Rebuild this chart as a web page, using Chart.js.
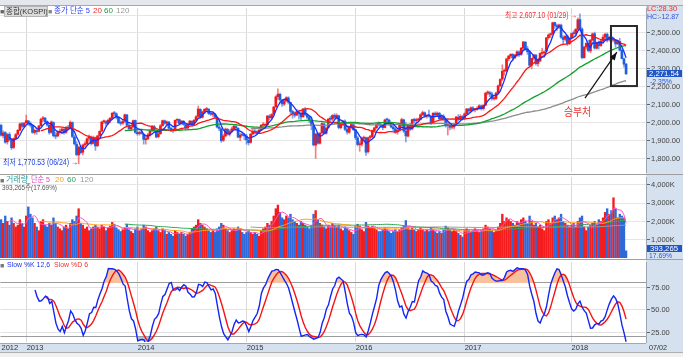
<!DOCTYPE html>
<html lang="ko"><head><meta charset="utf-8">
<script src="https://cdn.jsdelivr.net/npm/chart.js@4.4.1/dist/chart.umd.min.js"></script>
<style>
html,body{margin:0;padding:0}
body{width:683px;height:357px;position:relative;overflow:hidden;background:#fff;font-family:"Liberation Sans","Noto Sans CJK KR",sans-serif;}
.a{position:absolute;white-space:nowrap;line-height:1;transform-origin:0 50%}
canvas{position:absolute;left:0}
</style></head><body>
<div class="a" style="left:0;top:0;width:683px;height:5px;background:#e4e8ec;border-bottom:1px solid #a8a8a8"></div>
<div class="a" style="left:646px;top:6px;width:37px;height:346px;background:#d5e1ee;"></div>
<div class="a" style="left:0;top:343px;width:646px;height:9px;background:#d5e1ee;border-top:1px solid #a0a8b0"></div>
<div class="a" style="left:0;top:352px;width:683px;height:5px;background:#f0f0f0;border-top:1px solid #b0b0b0"></div>
<div class="a" style="left:0;top:174px;width:683px;height:1px;background:#a0a0a0"></div>
<div class="a" style="left:0;top:259px;width:683px;height:1px;background:#a0a0a0"></div>

<canvas id="cP" width="683" height="168" style="top:6px;width:683px;height:168px"></canvas>
<canvas id="cV" width="683" height="85" style="top:175px;width:683px;height:85px"></canvas>
<canvas id="cS" width="683" height="92" style="top:260px;width:683px;height:92px"></canvas>

<div class="a" style="left:0;top:7.5px;font-size:7px;color:#666">■</div>
<div class="a" style="left:4px;top:6px;width:41px;height:9px;overflow:hidden;background:#dcdcdc;border:1px solid #b4b4b4;font-size:7.5px;color:#333;line-height:9px;padding-left:1px">종합(KOSPI)</div>
<div class="a" style="left:48px;top:7.5px;font-size:7px;color:#888">■</div>
<div class="a fit" data-w="36" style="left:54px;top:7px;font-size:8px;color:#2a3cf0">종가 단순 5</div>
<div class="a" style="left:93px;top:7px;font-size:8px;color:#f02828">20</div>
<div class="a" style="left:104px;top:7px;font-size:8px;color:#1a9a3a">60</div>
<div class="a" style="left:116px;top:7px;font-size:8px;color:#999">120</div>
<div class="a fit" data-w="30" style="left:647px;top:5px;font-size:8px;color:#e03030">LC:28.30</div>
<div class="a fit" data-w="32" style="left:647px;top:13px;font-size:8px;color:#3050e0">HC:-12.87</div>
<div class="a" style="left:647px;top:70px;width:35px;height:7px;background:#1f56c8;"></div>
<div class="a fit" data-w="30" style="left:649px;top:69.5px;font-size:8px;color:#fff">2,271.54</div>
<div class="a fit" data-w="22" style="left:650px;top:77.5px;font-size:8px;color:#2255dd">-2.35%</div>
<div class="a fit" data-w="72" style="left:505px;top:11px;font-size:8.5px;color:#f03030">최고 2,607.10 (01/29) →</div>
<div class="a fit" data-w="75" style="left:3px;top:158px;font-size:8.5px;color:#2040e0">최저 1,770.53 (06/24) →</div>
<div class="a fit" data-w="27" style="left:564px;top:106px;font-size:11px;color:#e83030;font-family:'Noto Sans CJK KR',sans-serif">승부처</div>

<div class="a" style="left:0;top:177px;font-size:7px;color:#777">■</div>
<div class="a fit" data-w="22" style="left:6px;top:176px;font-size:8px;color:#2aa0a0">거래량</div>
<div class="a fit" data-w="19" style="left:31px;top:176px;font-size:8px;color:#e040c8">단순 5</div>
<div class="a" style="left:55px;top:176px;font-size:8px;color:#f0a020">20</div>
<div class="a" style="left:67px;top:176px;font-size:8px;color:#30a060">60</div>
<div class="a" style="left:80px;top:176px;font-size:8px;color:#999">120</div>
<div class="a fit" data-w="55" style="left:2px;top:184px;font-size:8px;color:#555">393,265주(17.69%)</div>
<div class="a" style="left:647px;top:245px;width:35px;height:7px;background:#1f56c8;"></div>
<div class="a fit" data-w="28" style="left:650px;top:244.5px;font-size:8px;color:#fff">393,265</div>
<div class="a fit" data-w="23" style="left:649px;top:252px;font-size:8px;color:#2255dd">17.69%</div>

<div class="a" style="left:0;top:261.5px;font-size:7px;color:#777">■</div>
<div class="a fit" data-w="43" style="left:7px;top:260.5px;font-size:8px;color:#2030f0">Slow %K 12,6</div>
<div class="a fit" data-w="34" style="left:54px;top:260.5px;font-size:8px;color:#f03030">Slow %D 6</div>
<div class="a fit" data-w="18" style="left:649px;top:344px;font-size:8px;color:#333">07/02</div>

<script>
// ---------- data (weekly KOSPI) ----------
const firstWeek = '2012-10-08';
const closedWeeks = ['2017-10-02'];
const emptySlots = 9;

const openP = [1985,1928,1945,1893,1935,1903,1862,1912,1935,1958,
1994,1978,2000,2010,1995,1985,1945,1955,1952,1983,
2020,2025,2005,1985,1946,2000,1925,1926,1945,1953,
1962,1946,1973,1970,2000,1920,1880,1820,1860,1835,
1877,1882,1912,1918,1885,1915,1872,1928,1953,2005,
2006,1995,2012,2025,2053,2049,2030,1998,1997,2008,
2043,1985,1965,1977,2012,1945,1940,1947,1935,1905,
1910,1933,1956,1978,1952,1922,1938,1983,2010,1996,
2003,1968,1960,1958,2014,2017,1996,2008,1989,1970,
1990,2008,1990,2014,2035,2074,2030,2062,2073,2075,
2050,2046,2046,2030,1975,1965,1902,1926,1962,1940,
1951,1966,1978,1968,1918,1931,1930,1925,1902,1890,
1937,1950,1948,1946,1958,1986,1985,1988,2036,2027,
2047,2088,2145,2158,2125,2104,2123,2138,2112,2062,
2053,2042,2058,2052,2033,2075,2043,2031,2008,1980,
1875,1935,1885,1943,1993,1940,1972,2020,2020,2041,
2030,2038,1972,1990,2008,1962,1946,1975,1988,1960,
1915,1877,1880,1913,1915,1838,1917,1922,1956,1972,
1993,1990,1984,1973,2016,2014,1993,1975,1965,1948,
1958,1986,2015,1952,1925,1987,1965,2018,2011,2015,
2018,2045,2055,2036,2039,2035,2000,2052,2044,2052,
2021,2034,2018,1983,1982,1975,1976,1992,2030,2018,
2034,2025,2050,2075,2066,2082,2072,2075,2081,2093,
2079,2098,2165,2167,2160,2133,2135,2166,2206,2243,
2287,2289,2356,2372,2380,2362,2379,2394,2380,2416,
2449,2411,2393,2321,2359,2377,2330,2344,2387,2389,
2400,2474,2490,2497,2558,2541,2535,2544,2475,2465,
2483,2441,2474,2498,2497,2521,2575,2522,2362,2422,
2443,2400,2461,2496,2415,2446,2430,2456,2477,2493,
2462,2478,2461,2460,2440,2452,2403,2356,2327];

const highP = [1992,1955,1950,1940,1945,1910,1915,1940,1962,1998,
2002,2000,2042,2012,2005,1990,1965,1960,1985,2025,
2035,2030,2010,1990,2010,2005,1945,1955,1965,1970,
1968,1980,1985,2010,2005,1930,1895,1870,1870,1880,
1895,1915,1930,1925,1925,1920,1930,1955,2008,2015,
2012,2020,2030,2058,2063,2055,2035,2010,2015,2048,
2046,1995,1985,2015,2015,1955,1955,1960,1940,1925,
1940,1960,1985,1985,1960,1945,1990,2015,2015,2010,
2008,1975,1965,2015,2020,2020,2012,2012,1995,1995,
2012,2010,2018,2040,2093,2078,2065,2078,2085,2078,
2062,2060,2050,2032,1990,1970,1935,1970,1968,1960,
1975,1985,1990,1972,1940,1945,1940,1935,1915,1940,
1960,1960,1955,1962,1990,2000,1995,2040,2045,2050,
2090,2150,2189,2165,2130,2130,2145,2145,2115,2070,
2060,2075,2070,2060,2080,2085,2050,2035,2015,1985,
1940,1945,1945,2000,1998,1975,2025,2035,2045,2050,
2050,2042,1995,2012,2015,1970,1980,1995,1995,1962,
1925,1895,1920,1925,1920,1920,1930,1960,1975,1995,
2005,2000,1990,2020,2025,2020,2000,1985,1972,1965,
1990,2025,2020,2000,1990,1995,2020,2025,2025,2025,
2050,2065,2060,2045,2070,2040,2055,2060,2060,2058,
2040,2045,2022,2010,1995,1985,1995,2035,2045,2045,
2040,2055,2080,2080,2088,2090,2080,2090,2100,2098,
2100,2170,2178,2175,2170,2145,2170,2210,2245,2323,
2300,2360,2375,2385,2385,2380,2400,2400,2420,2453,
2452,2425,2400,2360,2380,2380,2350,2390,2415,2400,
2475,2495,2500,2561,2561,2550,2550,2550,2485,2485,
2490,2475,2500,2513,2525,2585,2607.1,2530,2425,2445,
2460,2465,2500,2505,2450,2455,2460,2490,2500,2500,
2480,2485,2475,2465,2460,2470,2410,2360,2330];

const lowP = [1925,1915,1885,1880,1898,1850,1855,1905,1930,1955,
1970,1975,1995,1985,1975,1940,1935,1935,1948,1980,
2005,1995,1980,1935,1940,1920,1910,1920,1935,1940,
1935,1940,1960,1965,1915,1875,1815,1770.53,1825,1820,
1865,1875,1895,1875,1880,1845,1865,1920,1950,1995,
1985,1990,2000,2020,2035,2020,1995,1985,1990,2000,
1980,1960,1955,1970,1940,1930,1930,1935,1880,1880,
1905,1925,1950,1945,1915,1915,1935,1980,1990,1985,
1965,1950,1945,1955,2000,1990,1990,1985,1960,1965,
1985,1980,1985,2010,2030,2025,2025,2050,2060,2045,
2040,2035,2025,1970,1955,1890,1895,1920,1930,1925,
1945,1960,1962,1915,1900,1925,1905,1880,1875,1885,
1930,1935,1935,1940,1955,1975,1970,1985,2015,2020,
2040,2085,2130,2120,2090,2095,2115,2105,2050,2025,
2030,2040,2020,2010,2030,2040,2020,2000,1960,1870,
1800,1880,1880,1940,1935,1935,1970,2005,2010,2020,
2020,1965,1965,1985,1955,1935,1940,1965,1955,1905,
1870,1840,1870,1895,1817,1830,1905,1915,1950,1965,
1980,1975,1960,1970,2005,1985,1970,1955,1940,1935,
1955,1980,1945,1892,1920,1955,1960,2000,2005,2005,
2015,2040,2030,2025,2030,1990,1995,2035,2040,2015,
2015,2015,1975,1931,1960,1965,1965,1985,2010,2015,
2015,2020,2045,2055,2060,2065,2060,2070,2075,2070,
2070,2095,2155,2145,2125,2125,2130,2160,2200,2235,
2265,2285,2345,2360,2345,2355,2370,2370,2375,2410,
2405,2380,2315,2300,2350,2320,2315,2340,2380,2375,
2398,2465,2475,2490,2525,2515,2525,2470,2440,2455,
2430,2435,2470,2480,2485,2515,2520,2355,2360,2410,
2395,2390,2455,2410,2410,2410,2425,2450,2465,2450,
2455,2450,2450,2420,2435,2400,2355,2310,2270];

const closeP = [1930,1943,1891,1934,1905,1860,1911,1933,1957,1993,1980,1997,
2011,1996,1986,1946,1957,1950,1981,2018,2026,2006,1987,1945,2004,1927,1924,1944,1952,1964,1944,1972,1969,2001,1923,1882,1822,1863,1833,1875,1880,1910,1920,1883,1917,1870,1926,1951,2003,2007,1997,2013,2024,2052,2050,2031,2000,1996,2006,2044,1986,1966,1975,2011,
1946,1938,1946,1940,1907,1908,1932,1955,1980,1954,1920,1937,1982,2011,1997,2004,1969,1959,1957,2013,2018,1995,2009,1990,1969,1988,2009,1988,2013,2033,2076,2031,2060,2074,2076,2051,2047,2047,2031,1976,1968,1900,1925,1964,1939,1950,1965,1980,1970,1920,1930,1930,
1926,1904,1888,1936,1952,1947,1945,1957,1985,1987,1986,2037,2028,2045,2087,2144,2159,2127,2105,2122,2139,2114,2063,2052,2041,2060,2053,2031,2076,2045,2030,2010,1983,1876,1937,1886,1941,1995,1942,1969,2019,2019,2040,2029,2040,1973,1989,2009,1963,1948,1974,1990,1961,
1917,1878,1879,1912,1917,1835,1916,1920,1955,1971,1992,1992,1985,1972,2015,2015,1994,1976,1966,1947,1957,1985,2017,1953,1926,1988,1963,2017,2010,2016,2017,2044,2056,2037,2038,2037,1999,2053,2043,2053,2022,2033,2019,1982,1984,1974,1975,1991,2031,2017,2035,2026,
2049,2076,2065,2083,2073,2074,2080,2094,2078,2097,2164,2168,2160,2134,2134,2165,2205,2241,2286,2288,2355,2371,2381,2361,2378,2395,2379,2415,2450,2410,2395,2320,2358,2378,2329,2343,2386,2388,2394,2473,2489,2496,2557,2542,2534,2545,2476,2464,2482,2440,2467,
2497,2496,2520,2574,2525,2363,2421,2442,2402,2460,2495,2416,2445,2429,2455,2476,2492,2461,2477,2460,2461,2439,2451,2404,2357,2326,2271.54];

const volumeK = [2100,1900,2300,2000,1800,2200,1900,1700,1800,2100,1900,1700,
2300,2800,2400,2200,1900,1700,1500,2000,2100,1800,1700,1900,1800,
2200,1900,1700,1600,1500,1700,1800,1600,1900,2100,2000,2300,
2700,1900,1800,1600,1700,1500,1600,1700,1800,1700,1600,1800,1700,1500,
1650,1750,1950,1850,1650,1550,1450,1550,1650,1850,1550,1450,1350,
1600,1700,1500,1600,1800,1700,1500,1400,1500,1600,1700,1500,1400,1600,1500,1300,1400,
1300,1200,1500,1400,1300,1400,1300,1200,1300,1400,1600,1700,1800,2100,1900,1800,1700,1600,1500,1400,
1500,1400,1600,1700,1900,1800,1600,1500,1400,1500,1600,1500,1700,1600,1400,
1300,1400,1500,1400,1300,1400,1300,1200,1500,1600,1700,1900,1800,2000,2300,2700,2900,2500,2200,2100,2300,2200,2400,2100,2000,1900,1800,2000,1900,1800,1700,1600,1800,
2400,2600,2100,1900,1800,1700,1600,1800,1700,1900,1800,1700,1800,1600,1500,1700,1600,1500,1400,1300,
1750,1850,1750,1550,1450,1950,1750,1650,1750,1650,1550,1450,1450,1550,1650,1550,1450,1350,1450,1550,1450,1550,1650,1750,2050,1650,1550,1650,1550,1450,1550,1650,1550,1450,1550,1450,1650,1550,1450,1350,1450,1350,1550,1750,1650,1550,1450,1550,1450,1350,1250,1150,
1500,1600,1500,1400,1500,1600,1500,1400,1500,1600,1800,1700,1600,1500,1400,1500,1700,1900,2400,2000,2200,2100,2000,1900,1800,2000,1900,2100,2200,2000,1900,2300,2000,1800,1900,1700,1800,1600,1500,2000,2100,1900,2200,2300,2100,2200,2400,2000,1900,1800,1700,
1800,1900,1700,2000,2200,2300,1700,1500,1700,1800,1900,2000,1800,2100,2000,2200,2500,2700,2400,2600,3300,2700,2200,2400,2300,2200,393];

const maPeriods = [5, 20, 60, 120];
const priceTicks = [1800,1900,2000,2100,2200,2300,2400,2500,2600];
const hiddenPriceLabels = [2600];
const volumeTicks = [1000,2000,3000,4000];
const stochTicks = [20,25,50,75,80];
const stochBands = [20,80];
const stochParams = {fastK:12, slowK:6, slowD:6};

// annotation anchors (week index, index value)
const boxWeeks = [290.8, 303.2], boxValues = [2204, 2539];
const arrowFrom = [278.4, 2137], arrowTo = [293.6, 2393];

// ---------- helpers ----------
const weeks = [];
(function(){
  let d = new Date(firstWeek + 'T00:00:00Z');
  while (weeks.length < closeP.length) {
    const iso = d.toISOString().slice(0,10);
    if (!closedWeeks.includes(iso)) weeks.push(iso);
    d = new Date(d.getTime() + 7*864e5);
  }
})();
const labels = weeks.concat(Array(emptySlots).fill(''));
function tradeYear(iso){ const p = iso.split('-').map(Number); return (p[1]===12 && p[2]===31) ? p[0]+1 : p[0]; }
const yearLabel = {};
weeks.forEach((w,i)=>{ if(i===0 || tradeYear(w)!==tradeYear(weeks[i-1])) yearLabel[i] = String(tradeYear(w)); });
const yearLine = i => (i>0 && yearLabel[i]!==undefined);

function sma(arr,n){ return arr.map((v,i)=>{ if(i<n-1) return null; const w=arr.slice(i-n+1,i+1); if(w.some(x=>x==null)) return null; return w.reduce((a,b)=>a+b,0)/n; }); }
const up = closeP.map((c,i)=>c>=openP[i]);
const RED='#f01818', BLUE='#1f5fe0';
const bodyColors = up.map(u=>u?RED:BLUE);
const wickColors = up.map(u=>u?'rgba(240,40,40,0.6)':'rgba(40,100,230,0.6)');
const bodies = openP.map((o,i)=>[Math.min(o,closeP[i]), Math.max(o,closeP[i])]);
const wicks = lowP.map((l,i)=>[l, highP[i]]);
const maP = maPeriods.map(n=>sma(closeP,n));
const maV = maPeriods.map(n=>sma(volumeK,n));
const fastK = closeP.map((c,i)=>{
  if(i<stochParams.fastK-1) return null;
  const hh=Math.max(...highP.slice(i-stochParams.fastK+1,i+1)), ll=Math.min(...lowP.slice(i-stochParams.fastK+1,i+1));
  return hh===ll?50:(c-ll)/(hh-ll)*100;
});
const slowK = sma(fastK, stochParams.slowK);
const slowD = sma(slowK, stochParams.slowD);

const fmt2 = v => v.toLocaleString('en-US',{minimumFractionDigits:2,maximumFractionDigits:2});
const axisFont = {family:'"Liberation Sans", sans-serif', size:7.5, lineHeight:0.2};

function xScale(showLabels){
  return {
    type:'category', offset:true, display:true,
    grid:{offset:false, drawTicks:false, color: c => yearLine(c.index) ? '#d9d9d9' : 'rgba(0,0,0,0)', lineWidth:1},
    border:{display:false},
    ticks: showLabels ? {display:true, autoSkip:false, maxRotation:0, minRotation:0, align:'start', padding:1.5,
      color:'#333', font:{family:'"Liberation Sans", sans-serif', size:7.5},
      callback:(v,i)=> yearLabel[i] || ''} : {display:false},
    afterFit: showLabels ? (s=>{ s.height = 10; }) : undefined
  };
}
function yScale(min,max,ticks,labelFn,gridColor,tickColor){
  return {
    position:'right', min, max,
    afterFit: s=>{ s.width = 37; },
    afterBuildTicks: s=>{ s.ticks = ticks.map(v=>({value:v})); },
    grid:{color:gridColor, drawTicks:true, tickLength:4, tickColor:tickColor},
    border:{display:true, color:'#9aa6b2'},
    ticks:{padding:1, color:'#444', font:axisFont, callback: labelFn}
  };
}
const common = {
  responsive:false, animation:false, events:[],
  plugins:{legend:{display:false}, tooltip:{enabled:false}},
};

// ---------- annotations plugin ----------
const annotate = {
  id:'annotate',
  afterDatasetsDraw(chart){
    const {ctx, scales:{x,y}} = chart;
    ctx.save();
    ctx.strokeStyle = '#2a2a2a'; ctx.lineWidth = 2;
    const x0=x.getPixelForValue(boxWeeks[0]), x1=x.getPixelForValue(boxWeeks[1]);
    const y0=y.getPixelForValue(boxValues[1]), y1=y.getPixelForValue(boxValues[0]);
    ctx.strokeRect(x0,y0,x1-x0,y1-y0);
    const ax=x.getPixelForValue(arrowFrom[0]), ay=y.getPixelForValue(arrowFrom[1]);
    const bx=x.getPixelForValue(arrowTo[0]), by=y.getPixelForValue(arrowTo[1]);
    ctx.lineWidth = 1.2; ctx.strokeStyle='#111';
    ctx.beginPath(); ctx.moveTo(ax,ay); ctx.lineTo(bx,by); ctx.stroke();
    const ang = Math.atan2(by-ay, bx-ax);
    ctx.fillStyle='#111'; ctx.beginPath();
    ctx.moveTo(bx,by);
    ctx.lineTo(bx-8*Math.cos(ang)+3*Math.sin(ang), by-8*Math.sin(ang)-3*Math.cos(ang));
    ctx.lineTo(bx-8*Math.cos(ang)-3*Math.sin(ang), by-8*Math.sin(ang)+3*Math.cos(ang));
    ctx.closePath(); ctx.fill();
    ctx.restore();
  }
};

// ---------- price chart ----------
new Chart(document.getElementById('cP'), {
  type:'bar',
  data:{labels, datasets:[
    {type:'line', data:maP[0], borderColor:'#1530ff', borderWidth:1.3, pointRadius:0, order:0},
    {type:'line', data:maP[1], borderColor:'#ff1414', borderWidth:1.3, pointRadius:0, order:0},
    {type:'line', data:maP[2], borderColor:'#14a02c', borderWidth:1.3, pointRadius:0, order:0},
    {type:'line', data:maP[3], borderColor:'#8c8c8c', borderWidth:1.3, pointRadius:0, order:0},
    {type:'bar', data:bodies, backgroundColor:bodyColors, barThickness:2, minBarLength:1, grouped:false, order:1},
    {type:'bar', data:wicks, backgroundColor:wickColors, barThickness:1, grouped:false, order:2}
  ]},
  options:Object.assign({}, common, {
    layout:{padding:{top:2,bottom:2,left:0,right:0}},
    scales:{
      x:xScale(false),
      y:yScale(1724.7, 2639.4, priceTicks, v=> hiddenPriceLabels.includes(v)?'':fmt2(v), '#e6e6e6',
        c=> (c.tick && hiddenPriceLabels.includes(c.tick.value)) ? 'rgba(0,0,0,0)' : '#666')
    }
  }),
  plugins:[annotate]
});

// ---------- volume chart ----------
new Chart(document.getElementById('cV'), {
  type:'bar',
  data:{labels, datasets:[
    {type:'line', data:maV[0], borderColor:'#ff50c8', borderWidth:1, pointRadius:0, order:0},
    {type:'line', data:maV[1], borderColor:'#ffa010', borderWidth:1, pointRadius:0, order:0},
    {type:'line', data:maV[2], borderColor:'#2fa856', borderWidth:1, pointRadius:0, order:0},
    {type:'line', data:maV[3], borderColor:'#999999', borderWidth:1, pointRadius:0, order:0},
    {type:'bar', data:volumeK, backgroundColor:up.map(u=>u?'#f41c1c':'#2f68d8'), barThickness:1.7, grouped:false, order:1}
  ]},
  options:Object.assign({}, common, {
    layout:{padding:{top:2,bottom:2,left:0,right:0}},
    scales:{
      x:xScale(false),
      y:yScale(0, 4438, volumeTicks, v=> v.toLocaleString('en-US')+'K', '#e6e6e6', '#666')
    }
  })
});

// ---------- stochastic chart ----------
new Chart(document.getElementById('cS'), {
  type:'line',
  data:{labels, datasets:[
    {data:slowK, borderColor:'#1426f5', borderWidth:1.4, pointRadius:0, order:0,
     fill:{target:{value:stochBands[1]}, above:'#f6c19c', below:'rgba(0,0,0,0)'}},
    {data:slowD, borderColor:'#f51414', borderWidth:1.4, pointRadius:0, order:1,
     fill:{target:{value:stochBands[1]}, above:'#f6c19c', below:'rgba(0,0,0,0)'}},
    {data:slowK, borderWidth:0, borderColor:'rgba(0,0,0,0)', pointRadius:0, order:2,
     fill:{target:{value:stochBands[0]}, above:'rgba(0,0,0,0)', below:'#9fc4ee'}},
    {data:slowD, borderWidth:0, borderColor:'rgba(0,0,0,0)', pointRadius:0, order:3,
     fill:{target:{value:stochBands[0]}, above:'rgba(0,0,0,0)', below:'#9fc4ee'}}
  ]},
  options:Object.assign({}, common, {
    plugins:{legend:{display:false}, tooltip:{enabled:false}, filler:{drawTime:'beforeDatasetsDraw'}},
    layout:{padding:{top:2,bottom:0,left:0,right:0}},
    scales:{
      x:xScale(true),
      y:yScale(14.4, 103.3, stochTicks, v=> stochBands.includes(v)?'':fmt2(v),
        c=> (c.tick && stochBands.includes(c.tick.value)) ? '#9c9c9c' : '#e2e2e2',
        c=> (c.tick && stochBands.includes(c.tick.value)) ? 'rgba(0,0,0,0)' : '#666')
    }
  })
});

// condense DOM labels to their measured widths in the reference
document.querySelectorAll('.fit').forEach(el=>{
  const w = el.getBoundingClientRect().width, t = +el.dataset.w;
  if (w > t) el.style.transform = 'scaleX(' + (t/w).toFixed(3) + ')';
});
</script>
</body></html>
